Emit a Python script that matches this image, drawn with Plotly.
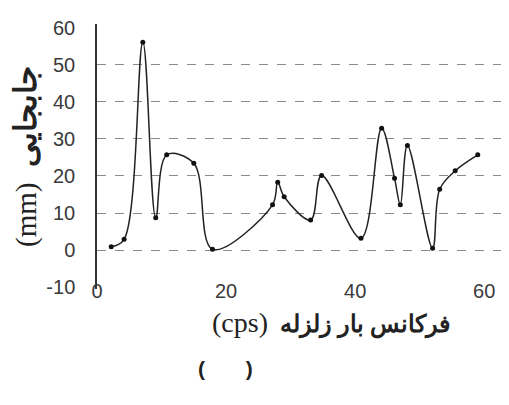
import plotly.graph_objects as go

# values
freq = [2.2, 4.2, 7.1, 9.1, 10.8, 15.0, 17.9, 27.2, 28.0, 29.0, 33.1, 34.8,
        40.9, 44.1, 46.1, 47.0, 48.1, 52.0, 53.1, 55.5, 59.0]
disp = [0.9, 2.9, 56.1, 8.7, 25.7, 23.4, 0.2, 12.2, 18.3, 14.4, 8.1, 20.1,
        3.2, 32.9, 19.4, 12.2, 28.2, 0.5, 16.4, 21.4, 25.7]

y_ticks = [-10, 0, 10, 20, 30, 40, 50, 60]
y_labels = ["-10", "0", "10", "20", "30", "40", "50", "60"]
grid_vals = [0, 10, 20, 30, 40, 50]
x_ticks = [0, 20, 40, 60]

y_title = "<span style='font-size:29px'>(mm)</span>  <b>جابجایی</b>"
x_title = "<span style='font-size:28px'>(cps)</span>  <b>فرکانس بار زلزله</b>"

fig = go.Figure(go.Scatter(
    x=freq, y=disp,
    mode="lines+markers",
    line=dict(color="#222222", width=1.5, shape="spline", smoothing=1.0),
    marker=dict(color="#111111", size=5),
    showlegend=False,
))

fig.update_xaxes(
    range=[0, 62.6],
    tickvals=x_ticks,
    showgrid=False, zeroline=False, showline=False, ticks="",
    anchor="free", position=0.045, automargin=False,
    tickfont=dict(family="Liberation Sans, Arial", size=20, color="#3a3a3a"),
)
fig.update_yaxes(
    range=[-10.5, 61],
    tickvals=y_ticks, ticktext=y_labels,
    showgrid=False, zeroline=False, automargin=False,
    showline=True, linecolor="#333333", linewidth=1.5,
    ticks="", ticklabelstandoff=16,
    tickfont=dict(family="Liberation Sans, Arial", size=20, color="#3a3a3a"),
    minor=dict(tickvals=grid_vals, showgrid=True, griddash="dash",
               gridcolor="#8a8a8a", gridwidth=1.3, ticks=""),
    title=dict(text=y_title, standoff=2,
               font=dict(family="Liberation Serif, DejaVu Serif", size=31, color="#222222")),
)

# page body adds an 8px margin, so the figure is sized to fit inside it
fig.update_layout(
    width=493, height=389,
    margin=dict(l=89, r=0, t=16, b=108),
    paper_bgcolor="white", plot_bgcolor="white",
    annotations=[
        dict(text=x_title, xref="paper", yref="paper",
             x=0.58, y=-0.128, showarrow=False, xanchor="center", yanchor="middle",
             font=dict(family="Liberation Serif, DejaVu Serif", size=24, color="#222222")),
        dict(text="<b>(\u00a0\u00a0\u00a0\u00a0\u00a0\u00a0\u00a0)</b>", xref="paper", yref="paper",
             x=0.318, y=-0.30, showarrow=False, xanchor="center", yanchor="middle",
             font=dict(family="Liberation Sans, Arial", size=21, color="#222222")),
    ],
)

fig.write_html("out.html")
